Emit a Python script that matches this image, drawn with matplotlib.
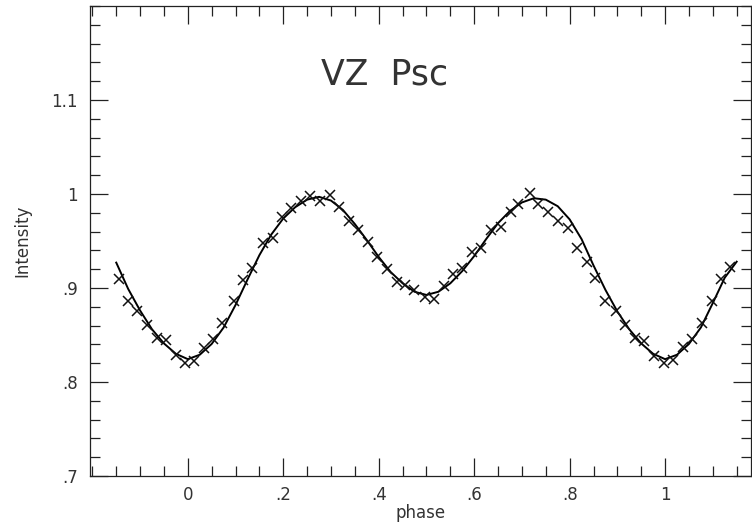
import numpy as np
import matplotlib
matplotlib.use("Agg")
import matplotlib.pyplot as plt
from matplotlib.ticker import FixedLocator, MultipleLocator

# observed points (crosses)
obs_phase = [-0.145, -0.126, -0.107, -0.086, -0.065, -0.046, -0.025, -0.006,
             0.013, 0.034, 0.052, 0.071, 0.096, 0.115, 0.134, 0.157, 0.178,
             0.197, 0.216, 0.237, 0.256, 0.277, 0.298, 0.317, 0.337, 0.356,
             0.377, 0.396, 0.417, 0.438, 0.455, 0.474, 0.497, 0.516, 0.537,
             0.556, 0.574, 0.595, 0.614, 0.635, 0.656, 0.677, 0.692, 0.717,
             0.734, 0.755, 0.776, 0.797, 0.816, 0.836, 0.853, 0.874, 0.897,
             0.916, 0.937, 0.956, 0.977, 0.998, 1.017, 1.038, 1.057, 1.078,
             1.099, 1.117, 1.136]
obs_int = [0.910, 0.886, 0.876, 0.861, 0.847, 0.845, 0.829, 0.820,
           0.822, 0.836, 0.846, 0.863, 0.886, 0.909, 0.921, 0.948, 0.953,
           0.976, 0.985, 0.993, 0.998, 0.993, 0.999, 0.986, 0.971, 0.962,
           0.949, 0.933, 0.920, 0.906, 0.903, 0.898, 0.890, 0.888, 0.902,
           0.915, 0.921, 0.938, 0.943, 0.962, 0.965, 0.981, 0.989, 1.001,
           0.989, 0.981, 0.971, 0.964, 0.943, 0.928, 0.911, 0.886, 0.876,
           0.861, 0.847, 0.844, 0.828, 0.820, 0.823, 0.837, 0.846, 0.863,
           0.886, 0.910, 0.922]

# fitted light curve
fit_phase = [-0.15, -0.125, -0.1, -0.075, -0.05, -0.025,
             0.0, 0.025, 0.05, 0.075, 0.1, 0.125, 0.15, 0.175, 0.2, 0.225,
             0.25, 0.275, 0.3, 0.325, 0.35, 0.375, 0.4, 0.425, 0.45, 0.475,
             0.5, 0.525, 0.55, 0.575, 0.6, 0.625, 0.65, 0.675, 0.7, 0.725,
             0.75, 0.775, 0.8, 0.825, 0.85, 0.875, 0.9, 0.925, 0.95, 0.975,
             1.0, 1.025, 1.05, 1.075, 1.1, 1.125, 1.15]
fit_int = [0.927, 0.899, 0.876, 0.856, 0.841, 0.830,
           0.8243, 0.829, 0.8405, 0.858, 0.882, 0.909, 0.935, 0.957, 0.974, 0.986,
           0.994, 0.997, 0.993, 0.983, 0.968, 0.951, 0.933, 0.917, 0.905, 0.896,
           0.8926, 0.896, 0.905, 0.918, 0.934, 0.952, 0.969, 0.982, 0.991, 0.9955,
           0.994, 0.987, 0.973, 0.952, 0.924, 0.898, 0.875, 0.856, 0.841, 0.830,
           0.8243, 0.829, 0.8405, 0.858, 0.884, 0.911, 0.928]

x_ticks = [0, 0.2, 0.4, 0.6, 0.8, 1.0]
x_labels = ["0", ".2", ".4", ".6", ".8", "1"]
y_ticks = [0.7, 0.8, 0.9, 1.0, 1.1]
y_labels = [".7", ".8", ".9", "1", "1.1"]

plt.rcParams['font.family'] = ['DejaVu Sans']
ink = '#222222'

fig = plt.figure(figsize=(7.52, 5.26), dpi=100)
ax = fig.add_axes([90 / 752, 50 / 526, 661 / 752, 470 / 526])

ax.plot(fit_phase, fit_int, color='black', lw=1.4)
ax.plot(obs_phase, obs_int, ls='none', marker='x', ms=7, mew=1.1, color='#111111')

ax.set_xlim(-0.205, 1.18)
ax.set_ylim(0.7, 1.2)

ax.xaxis.set_major_locator(FixedLocator(x_ticks))
ax.set_xticklabels(x_labels)
ax.xaxis.set_minor_locator(MultipleLocator(0.05))
ax.yaxis.set_major_locator(FixedLocator(y_ticks))
ax.set_yticklabels(y_labels)
ax.yaxis.set_minor_locator(MultipleLocator(0.02))

ax.tick_params(which='both', direction='in', top=True, right=True,
               color=ink, width=0.9, labelsize=12, labelcolor='#333333')
ax.tick_params(which='major', length=13, pad=9)
ax.tick_params(axis='x', which='major', pad=7)
ax.tick_params(which='minor', length=7)
for s in ax.spines.values():
    s.set_color(ink)
    s.set_linewidth(0.9)

ax.set_xlabel('phase', fontsize=12, color='#333333', labelpad=0)
ax.set_ylabel('Intensity', fontsize=12, color='#333333', labelpad=14)
ax.text(0.413, 1.127, 'VZ  Psc', fontsize=25, color='#333333',
        ha='center', va='center')

fig.savefig('out.png', dpi=100)
